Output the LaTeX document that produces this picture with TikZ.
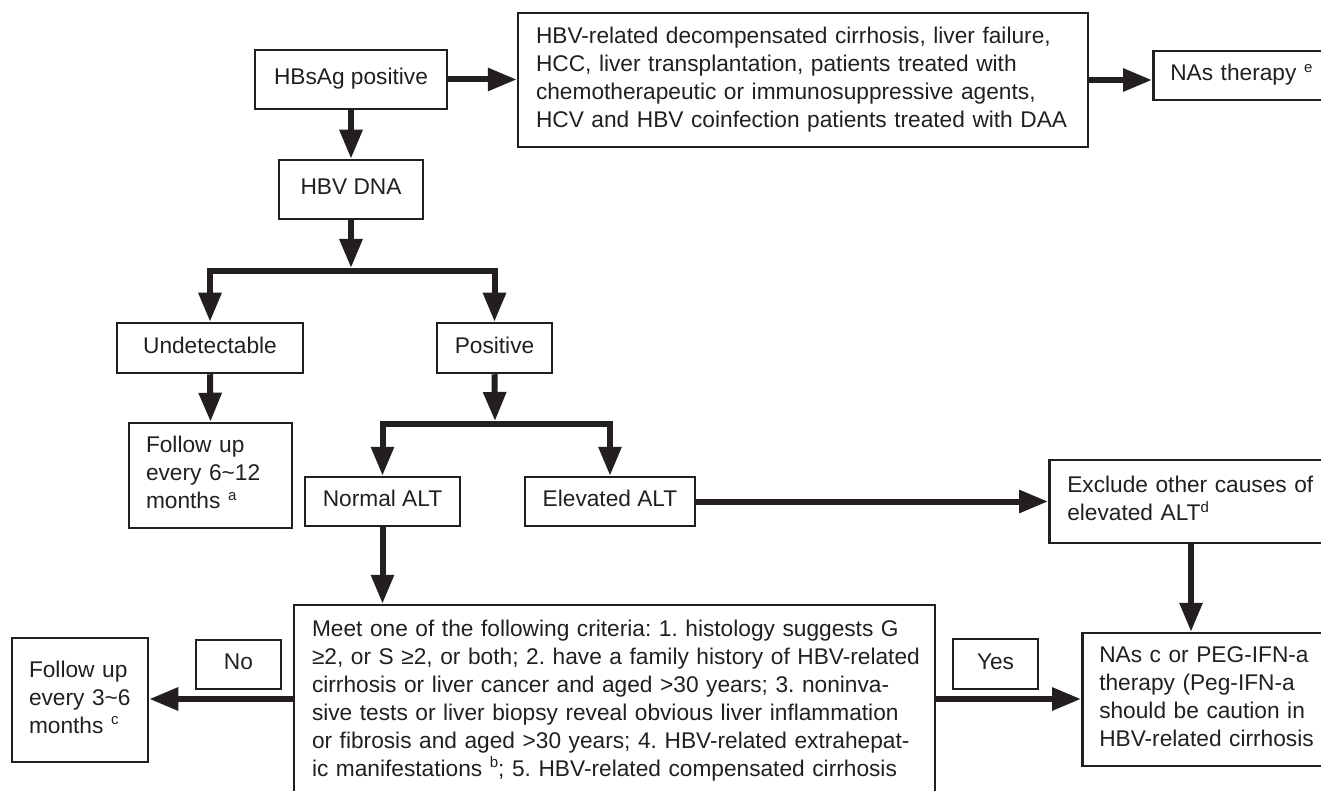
\documentclass[tikz,border=0pt]{standalone}
\usepackage{fontspec}
\setmainfont{Liberation Sans}
\usetikzlibrary{arrows.meta}
\definecolor{ink}{RGB}{35,31,32}
\setlength\parindent{0pt}
\frenchspacing
\newcommand\bs{\rule[-5.75pt]{0pt}{22pt}}
\newcommand\sups[1]{\raisebox{8.5pt}{\fontsize{15}{15}\selectfont #1}}
\begin{document}
\begin{tikzpicture}[x=1pt,y=-1pt,
  box/.style={draw=ink, line width=2.5pt, rectangle, inner sep=0pt, text=ink,
    font=\fontsize{22.7}{28}\selectfont\frenchspacing, align=center},
  lbox/.style={box, align=left},
  arr/.style={draw=ink, line width=6pt, -{Triangle[length=29pt,width=22pt]}}]
\useasboundingbox (0,0) rectangle (1321,791);
\clip (0,0) rectangle (1321,791);

% nodes
\node[box, minimum width=192pt, minimum height=59pt] (hbsag) at (351,79.5) {\bs HBsAg positive};
\node[lbox, minimum width=570pt, minimum height=134pt, inner xsep=18pt, text width=534pt] (top) at (803,80)
 {\mbox{\bs HBV-related decompensated cirrhosis, liver failure,}\\
  \mbox{HCC, liver transplantation, patients treated with}\\
  \mbox{chemotherapeutic or immunosuppressive agents,}\\
  \mbox{HCV and HBV coinfection patients treated with DAA\bs}};
\node[lbox, anchor=west, minimum width=200pt, minimum height=49pt, inner xsep=17pt, text width=166pt] (nas) at (1152,75.5)
 {\mbox{\bs NAs therapy \sups{e}}};
\node[box, minimum width=144pt, minimum height=59pt] (hbvdna) at (351,189.5) {\bs HBV DNA};
\node[box, minimum width=186pt, minimum height=50pt] (undet) at (210,348) {\bs Undetectable};
\node[box, minimum width=115pt, minimum height=50pt] (pos) at (494.5,348) {\bs Positive};
\node[lbox, minimum width=163pt, minimum height=105pt, inner xsep=17pt, text width=129pt] (fu1) at (210.5,475.5)
 {\mbox{\bs Follow up}\\ \mbox{every 6\textasciitilde12}\\ \mbox{months \sups{a}\bs}};
\node[box, minimum width=155pt, minimum height=49pt] (normal) at (382.5,501.5) {\bs Normal ALT};
\node[box, minimum width=170pt, minimum height=49pt] (elev) at (610,501.5) {\bs Elevated ALT};
\node[lbox, anchor=west, minimum width=300pt, minimum height=83pt, inner xsep=18pt, text width=264pt] (excl) at (1048,501.5)
 {\mbox{\bs Exclude other causes of}\\ \mbox{elevated ALT\sups{d}\bs}};
\node[lbox, minimum width=641pt, minimum height=192pt, inner xsep=18pt, text width=605pt] (crit) at (614.5,701)
 {\mbox{\bs Meet one of the following criteria: 1. histology suggests G}\\
  \mbox{≥2, or S ≥2, or both; 2. have a family history of HBV-related}\\
  \mbox{cirrhosis or liver cancer and aged >30 years; 3. noninva-}\\
  \mbox{sive tests or liver biopsy reveal obvious liver inflammation}\\
  \mbox{or fibrosis and aged >30 years; 4. HBV-related extrahepat-}\\
  \mbox{ic manifestations \sups{b}; 5. HBV-related compensated cirrhosis\bs}};
\node[lbox, minimum width=136pt, minimum height=124pt, inner xsep=17pt, text width=102pt] (fu2) at (80,700)
 {\mbox{\bs Follow up}\\ \mbox{every 3\textasciitilde6}\\ \mbox{months \sups{c}\bs}};
\node[box, minimum width=85pt, minimum height=49pt] (no) at (238.5,664.5) {\bs No};
\node[box, minimum width=85pt, minimum height=50pt] (yes) at (995.5,664) {\bs Yes};
\node[lbox, anchor=west, minimum width=280pt, minimum height=133pt, inner xsep=17pt, text width=246pt] (nasc) at (1081,699.5)
 {\mbox{\bs NAs c or PEG-IFN-a}\\ \mbox{therapy (Peg-IFN-a}\\ \mbox{should be caution in}\\ \mbox{HBV-related cirrhosis\bs}};

% junctions
\coordinate (j1) at (351,271);
\coordinate (j2) at (495,424);
\coordinate (ea) at (1191,0);
\coordinate (ny) at (0,699);

% connectors
\draw[arr] (hbsag.east) -- (hbsag.east -| top.west);
\draw[arr] (top.east) -- (top.east -| nas.west);
\draw[arr] (hbsag.south) -- (hbvdna.north);
\draw[arr] (hbvdna.south) -- ([yshift=3pt]j1);
\draw[arr] (j1) -| (undet.north);
\draw[arr] (j1) -| (pos.north);
\draw[arr] (undet.south) -- (fu1.north);
\draw[arr] (pos.south) -- ([yshift=3pt]j2);
\draw[arr] (j2) -| (normal.north);
\draw[arr] (j2) -| (elev.north);
\draw[arr] (elev.east) -- (elev.east -| excl.west);
\draw[arr] (excl.south -| ea) -- (nasc.north -| ea);
\draw[arr] (normal.south) -- (normal.south |- crit.north);
\draw[arr] (crit.west |- ny) -- (fu2.east |- ny);
\draw[arr] (crit.east |- ny) -- (nasc.west |- ny);
\end{tikzpicture}
\end{document}
